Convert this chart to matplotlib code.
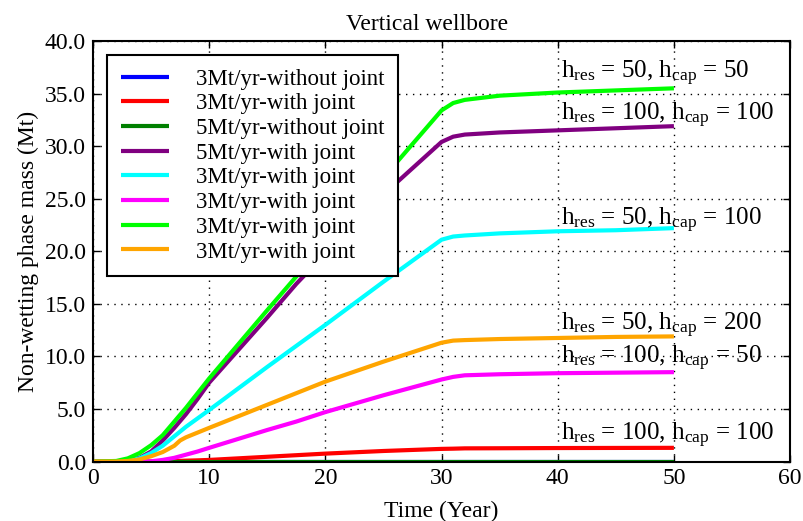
import matplotlib
matplotlib.use("Agg")
import matplotlib.pyplot as plt
from matplotlib.ticker import FormatStrFormatter, MultipleLocator

plt.rcParams["font.family"] = ["Liberation Serif", "DejaVu Serif"]
plt.rcParams["mathtext.fontset"] = "custom"
plt.rcParams["mathtext.rm"] = "Liberation Serif"
plt.rcParams["mathtext.it"] = "Liberation Serif:italic"

# Simulation time (years)
time = [0, 2, 3, 4, 5, 6, 7, 7.5, 8, 9, 10, 15, 17.5, 20, 25, 30, 31, 32, 35, 40, 45, 50]

# Non-wetting phase mass (Mt) for each case
mass_3mt_no_joint = [0] * len(time)
mass_3mt_joint = [0, 0, 0, 0, 0, 0.02, 0.05, 0.06, 0.08, 0.11, 0.15, 0.45, 0.6, 0.75,
                  1.0, 1.2, 1.22, 1.25, 1.26, 1.28, 1.29, 1.3]
mass_5mt_no_joint = [0] * len(time)
mass_5mt_joint = [0, 0.02, 0.1, 0.35, 0.95, 2.0, 3.2, 3.85, 4.5, 5.95, 7.5, 13.7, 16.9, 19.8,
                  25.4, 30.4, 30.9, 31.1, 31.3, 31.5, 31.7, 31.9]
mass_r50_c100 = [0, 0, 0.05, 0.3, 0.8, 1.5, 2.4, 2.85, 3.3, 4.1, 4.9, 9.0, 11.0, 13.0,
                 17.1, 21.1, 21.4, 21.5, 21.7, 21.9, 22.0, 22.2]
mass_r100_c50 = [0, 0, 0, 0, 0.02, 0.15, 0.35, 0.5, 0.65, 0.95, 1.3, 3.0, 3.8, 4.7,
                 6.3, 7.8, 8.05, 8.2, 8.3, 8.4, 8.45, 8.5]
mass_r50_c50 = [0, 0.05, 0.3, 0.8, 1.55, 2.5, 3.8, 4.45, 5.1, 6.5, 7.9, 14.4, 17.6, 20.7,
                27.0, 33.4, 34.1, 34.4, 34.8, 35.1, 35.3, 35.5]
mass_r50_c200 = [0, 0, 0.05, 0.2, 0.5, 0.9, 1.5, 2.0, 2.3, 2.75, 3.2, 5.4, 6.5, 7.6,
                 9.5, 11.3, 11.5, 11.55, 11.65, 11.75, 11.85, 11.9]

series = [
    (mass_3mt_no_joint, "#0000ff", "3Mt/yr-without joint"),
    (mass_3mt_joint, "#ff0000", "3Mt/yr-with joint"),
    (mass_5mt_no_joint, "#008000", "5Mt/yr-without joint"),
    (mass_5mt_joint, "#800080", "5Mt/yr-with joint"),
    (mass_r50_c100, "#00ffff", "3Mt/yr-with joint"),
    (mass_r100_c50, "#ff00ff", "3Mt/yr-with joint"),
    (mass_r50_c50, "#00ff00", "3Mt/yr-with joint"),
    (mass_r50_c200, "#ffa500", "3Mt/yr-with joint"),
]

# Case annotations: (x, y, text)
annotations = [
    (40.3, 36.4, r"h$_{\rm res}$ = 50, h$_{\rm cap}$ = 50"),
    (40.3, 32.4, r"h$_{\rm res}$ = 100, h$_{\rm cap}$ = 100"),
    (40.3, 22.5, r"h$_{\rm res}$ = 50, h$_{\rm cap}$ = 100"),
    (40.3, 12.5, r"h$_{\rm res}$ = 50, h$_{\rm cap}$ = 200"),
    (40.3, 9.35, r"h$_{\rm res}$ = 100, h$_{\rm cap}$ = 50"),
    (40.3, 2.05, r"h$_{\rm res}$ = 100, h$_{\rm cap}$ = 100"),
]

fig = plt.figure(figsize=(8.04, 5.21), dpi=100)
ax = fig.add_axes([0.1157, 0.1142, 0.8670, 0.8071])

for values, color, label in series:
    ax.plot(time, values, color=color, lw=3, label=label, solid_capstyle="butt")

for x, y, txt in annotations:
    ax.text(x, y, txt, fontsize=18, ha="left", va="baseline", color="black")

ax.set_xlim(0, 60)
ax.set_ylim(0, 40)
ax.xaxis.set_major_locator(MultipleLocator(10))
ax.yaxis.set_major_locator(MultipleLocator(5))
ax.yaxis.set_major_formatter(FormatStrFormatter("%.1f"))
ax.tick_params(direction="in", top=True, right=True, length=5, width=1,
               labelsize=17, pad=5)
ax.grid(True, color="black", linestyle=(0, (1, 4)), linewidth=1)
for sp in ax.spines.values():
    sp.set_linewidth(1.5)

ax.set_title("Vertical wellbore", fontsize=17, pad=8, x=0.479)
ax.set_xlabel("Time (Year)", fontsize=17, labelpad=8)
ax.set_ylabel("Non-wetting phase mass (Mt)", fontsize=17, labelpad=4)

leg = ax.legend(loc="upper left", fontsize=16.5, frameon=True, fancybox=False,
                framealpha=1, handlelength=2.1, handletextpad=1.2, labelspacing=0.16,
                borderaxespad=0.6, borderpad=0.6)
leg.get_frame().set_edgecolor("black")
leg.get_frame().set_linewidth(1.5)

fig.savefig("out.png", dpi=100, facecolor="white")
